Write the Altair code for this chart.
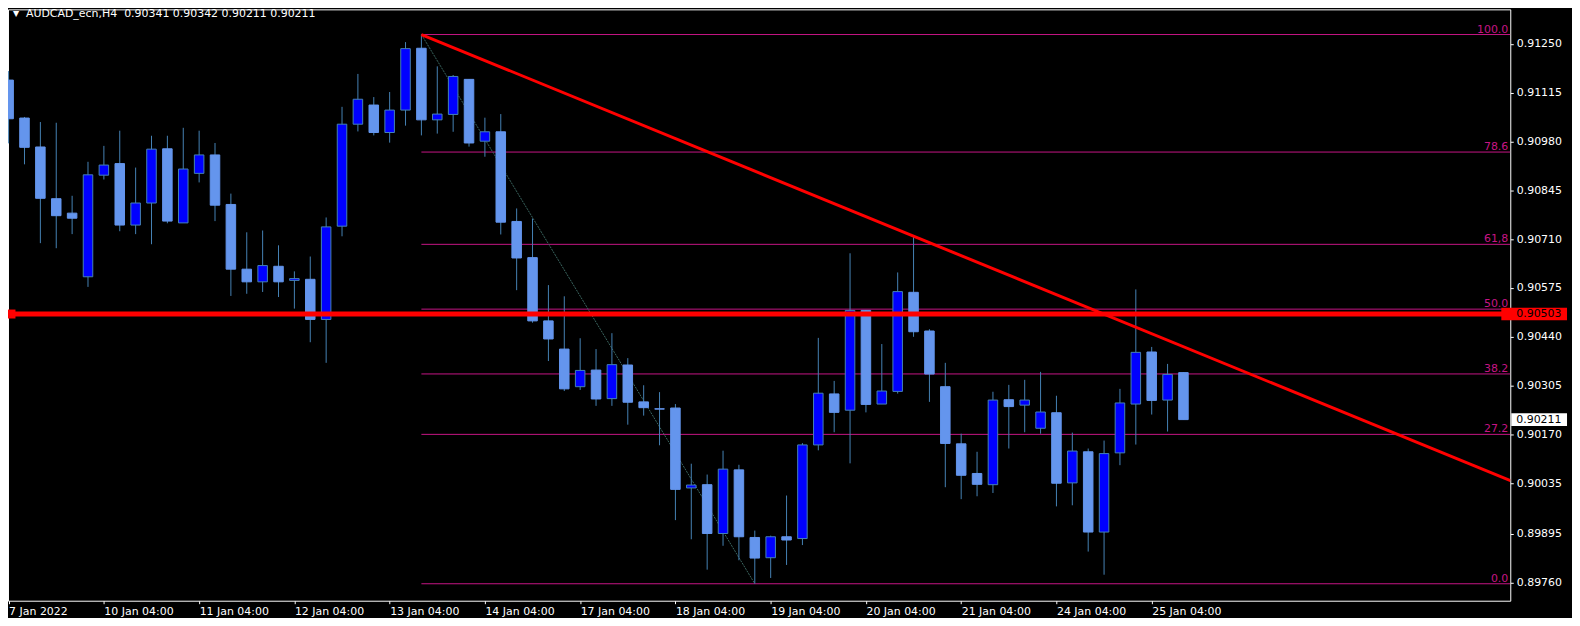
import altair as alt
import pandas as pd

# ---------------- data ----------------
opens = [0.91150, 0.91045, 0.90965, 0.90822, 0.90782, 0.90606, 0.90887, 0.90919, 0.90749, 0.90810,
         0.90960, 0.90755, 0.90892, 0.90943, 0.90806, 0.90627, 0.90592, 0.90635, 0.90596, 0.90599,
         0.90488, 0.90746, 0.91028, 0.91081, 0.91005, 0.91067, 0.91238, 0.91040, 0.91055, 0.91152,
         0.90981, 0.91007, 0.90759, 0.90659, 0.90484, 0.90406, 0.90302, 0.90348, 0.90269, 0.90362,
         0.90260, 0.90241, 0.90243, 0.90022, 0.90031, 0.89896, 0.90072, 0.89885, 0.89829, 0.89887,
         0.89882, 0.90141, 0.90282, 0.90237, 0.90513, 0.90254, 0.90289, 0.90563, 0.90456, 0.90302,
         0.90144, 0.90062, 0.90031, 0.90266, 0.90251, 0.90187, 0.90230, 0.90036, 0.90122, 0.89900,
         0.90119, 0.90254, 0.90398, 0.90265, 0.90341]
highs = [0.91175, 0.91048, 0.91034, 0.91032, 0.90830, 0.90924, 0.90968, 0.91010, 0.90908, 0.90996,
         0.90996, 0.91018, 0.91010, 0.90976, 0.90836, 0.90729, 0.90734, 0.90693, 0.90621, 0.90662,
         0.90770, 0.91076, 0.91167, 0.91103, 0.91117, 0.91255, 0.91276, 0.91188, 0.91164, 0.91153,
         0.91046, 0.91056, 0.90795, 0.90767, 0.90583, 0.90552, 0.90436, 0.90406, 0.90450, 0.90381,
         0.90306, 0.90287, 0.90254, 0.90089, 0.90059, 0.90125, 0.90086, 0.89904, 0.89890, 0.90001,
         0.90146, 0.90437, 0.90318, 0.90671, 0.90514, 0.90420, 0.90618, 0.90716, 0.90461, 0.90368,
         0.90172, 0.90122, 0.90288, 0.90307, 0.90321, 0.90343, 0.90277, 0.90175, 0.90131, 0.90153,
         0.90296, 0.90571, 0.90412, 0.90365, 0.90342]
lows = [0.90975, 0.90917, 0.90699, 0.90685, 0.90724, 0.90578, 0.90875, 0.90732, 0.90724, 0.90696,
        0.90754, 0.90755, 0.90867, 0.90760, 0.90553, 0.90559, 0.90564, 0.90550, 0.90518, 0.90425,
        0.90368, 0.90718, 0.91008, 0.90997, 0.90977, 0.91024, 0.90997, 0.91002, 0.91007, 0.90966,
        0.90938, 0.90723, 0.90569, 0.90479, 0.90373, 0.90290, 0.90293, 0.90249, 0.90249, 0.90197,
        0.90222, 0.90140, 0.89933, 0.89880, 0.89796, 0.89862, 0.89822, 0.89757, 0.89773, 0.89809,
        0.89864, 0.90126, 0.90176, 0.90090, 0.90231, 0.90254, 0.90283, 0.90440, 0.90260, 0.90024,
        0.89991, 0.89999, 0.90008, 0.90131, 0.90176, 0.90172, 0.89971, 0.89974, 0.89846, 0.89782,
        0.90085, 0.90142, 0.90225, 0.90178, 0.90211]
closes = [0.91043, 0.90964, 0.90823, 0.90775, 0.90768, 0.90888, 0.90915, 0.90749, 0.90810, 0.90959,
          0.90760, 0.90904, 0.90943, 0.90804, 0.90627, 0.90592, 0.90637, 0.90592, 0.90601, 0.90488,
          0.90744, 0.91028, 0.91097, 0.91005, 0.91067, 0.91237, 0.91040, 0.91056, 0.91160, 0.90976,
          0.91007, 0.90757, 0.90658, 0.90484, 0.90434, 0.90296, 0.90347, 0.90268, 0.90363, 0.90259,
          0.90244, 0.90240, 0.90018, 0.90030, 0.89896, 0.90074, 0.89887, 0.89828, 0.89887, 0.89878,
          0.90141, 0.90284, 0.90231, 0.90513, 0.90253, 0.90290, 0.90565, 0.90454, 0.90337, 0.90145,
          0.90057, 0.90032, 0.90265, 0.90247, 0.90265, 0.90232, 0.90035, 0.90124, 0.89900, 0.90117,
          0.90257, 0.90397, 0.90264, 0.90336, 0.90211]
bar_index = list(range(len(opens)))

date_ticks = [0, 6, 12, 18, 24, 30, 36, 42, 48, 54, 60, 66, 72]
date_labels = ["7 Jan 2022", "10 Jan 04:00", "11 Jan 04:00", "12 Jan 04:00", "13 Jan 04:00",
               "14 Jan 04:00", "17 Jan 04:00", "18 Jan 04:00", "19 Jan 04:00", "20 Jan 04:00",
               "21 Jan 04:00", "24 Jan 04:00", "25 Jan 04:00"]
price_ticks = [0.91250, 0.91115, 0.90980, 0.90845, 0.90710, 0.90575, 0.90440, 0.90305,
               0.90170, 0.90035, 0.89895, 0.89760]

fib_pcts = [100.0, 78.6, 61.8, 50.0, 38.2, 27.2, 0.0]
fib_texts = ["100.0", "78.6", "61,8", "50.0", "38.2", "27.2", "0.0"]
fib_high = 0.91276
fib_low = 0.89757
fib_from_bar = 26
fib_to_bar = 47

hline_price = 0.90503
trend_bars = [26, 94.6]
trend_prices = [0.91276, 0.90042]
last_price = 0.90211
header = "AUDCAD_ecn,H4\u00a0\u00a00.90341 0.90342 0.90211 0.90211"

# ---------------- layout / style ----------------
W, H = 1509, 594
X_DOMAIN = [-0.039, 94.586]
Y_DOMAIN = [0.897101, 0.913456]
FONT = "DejaVu Sans"
BULL = "#0000FF"
BEAR = "#6495ED"
EDGE = "#4682B4"
FIB = "#C71585"

xscale = alt.Scale(domain=X_DOMAIN, nice=False, zero=False)
yscale = alt.Scale(domain=Y_DOMAIN, nice=False, zero=False)

label_expr = "[" + ",".join("'%s'" % s for s in date_labels) + "][indexof([" + \
    ",".join(str(t) for t in date_ticks) + "], datum.value)]"

xaxis = alt.Axis(values=date_ticks, labelExpr=label_expr, orient="bottom", title=None,
                 labelColor="white", labelFont=FONT, labelFontSize=11, labelAlign="left",
                 labelBaseline="top", labelPadding=2, tickColor="white", tickSize=3,
                 domain=False, grid=False, labelFlush=False, labelOverlap=False, labelBound=False)
yaxis = alt.Axis(values=price_ticks, format=".5f", orient="right", title=None,
                 labelColor="white", labelFont=FONT, labelFontSize=11, labelPadding=3,
                 tickColor="white", tickSize=3, domain=False, grid=False,
                 labelFlush=False, labelOverlap=False)


def X(f):
    return alt.X(f, type="quantitative", scale=xscale, axis=xaxis)


def Y(f):
    return alt.Y(f, type="quantitative", scale=yscale, axis=yaxis)


candles = pd.DataFrame({"i": bar_index, "o": opens, "h": highs, "l": lows, "c": closes})

wicks = alt.Chart(candles).mark_rule(color=EDGE, strokeWidth=1, clip=True).encode(
    x=X("i"), y=Y("l"), y2="h:Q")

bodies = alt.Chart(candles).transform_calculate(
    x1="datum.i - 0.3", x2="datum.i + 0.3",
    lo="min(datum.o, datum.c)", hi="max(datum.o, datum.c)"
).mark_rect(strokeWidth=1, clip=True).encode(
    x=X("x1"), x2="x2:Q", y=Y("lo"), y2="hi:Q",
    fill=alt.condition("datum.c > datum.o", alt.value(BULL), alt.value(BEAR)),
    stroke=alt.condition("datum.c > datum.o", alt.value(EDGE), alt.value(BEAR)))

fib_df = pd.DataFrame({"pct": fib_pcts, "txt": fib_texts})
fib_df["p"] = fib_low + fib_df["pct"] / 100.0 * (fib_high - fib_low)
fib_df["start"] = fib_from_bar

fib_lines = alt.Chart(fib_df).mark_rule(color=FIB, strokeWidth=1, clip=True).encode(
    x=X("start"), x2=alt.value(W), y=Y("p"))
fib_text = alt.Chart(fib_df).mark_text(align="right", baseline="bottom", color=FIB,
                                       font=FONT, fontSize=11).encode(
    x=alt.value(W - 2), y=Y("p"), text="txt:N")

diag_df = pd.DataFrame({"i": [fib_from_bar, fib_to_bar], "p": [fib_high, fib_low]})
diag = alt.Chart(diag_df).mark_line(color="#3A6660", strokeWidth=1, strokeDash=[2, 1],
                                    clip=True).encode(x=X("i"), y=Y("p"))

trend_df = pd.DataFrame({"i": trend_bars, "p": trend_prices})
trend = alt.Chart(trend_df).mark_line(color="#FF0000", strokeWidth=3, clip=True).encode(
    x=X("i"), y=Y("p"))

hline_df = pd.DataFrame({"p": [hline_price]})
hline = alt.Chart(hline_df).mark_rule(color="#FF0000", strokeWidth=5).encode(y=Y("p"))
hmarker = alt.Chart(hline_df).mark_square(color="#FF0000", opacity=1, filled=True, size=81).encode(
    x=alt.value(3), y=Y("p"))

box_df = pd.DataFrame({"p": [hline_price, last_price],
                       "lbl": ["%.5f" % hline_price, "%.5f" % last_price],
                       "bg": ["#FF0000", "#FFFFFF"],
                       "x0": [1500, 1510]})
boxes = alt.Chart(box_df).transform_calculate(
    lo="datum.p - 0.000175", hi="datum.p + 0.000175"
).mark_rect().encode(
    x=alt.X("x0:Q", scale=None), x2=alt.value(1566), y=Y("lo"), y2="hi:Q",
    fill=alt.Fill("bg:N", scale=None))
box_text = alt.Chart(box_df).mark_text(align="left", baseline="middle", color="black",
                                       font=FONT, fontSize=11).encode(
    x=alt.value(1515), y=Y("p"), text="lbl:N")

head_df = pd.DataFrame({"t": [header], "tri": ["\u25BC"]})
head = alt.Chart(head_df).mark_text(align="left", baseline="middle", color="white",
                                    font=FONT, fontSize=11).encode(
    x=alt.value(18), y=alt.value(5), text="t:N")
tri = alt.Chart(head_df).mark_text(align="center", baseline="middle", color="white",
                                   font=FONT, fontSize=8).encode(
    x=alt.value(8), y=alt.value(5), text="tri:N")

chart = alt.layer(
    fib_lines, fib_text, diag, wicks, bodies, hline, hmarker, trend, boxes, box_text, head, tri
).properties(
    width=W, height=H,
    padding={"left": 0, "top": 0, "right": 62, "bottom": 16},
    autosize=alt.AutoSizeParams(type="none"),
).configure(background="black").configure_view(stroke="white", strokeWidth=1)

chart.save("out.html", embed_options={"renderer": "svg", "actions": False})
